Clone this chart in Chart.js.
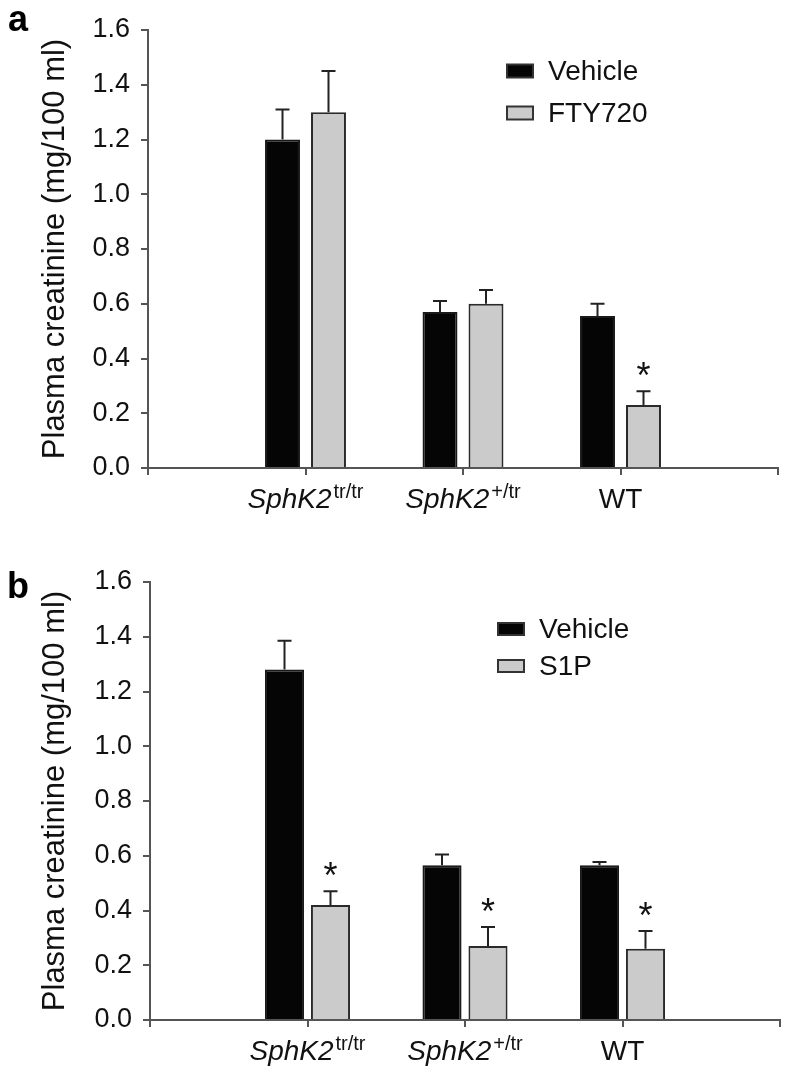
<!DOCTYPE html>
<html>
<head>
<meta charset="utf-8">
<script src="https://cdn.jsdelivr.net/npm/chart.js@4.4.1/dist/chart.umd.min.js"></script>
<style>
  html, body { margin: 0; padding: 0; background: #fff; }
  .panel { position: relative; width: 788px; }
  #panelA { height: 540px; }
  #panelB { height: 539px; }
</style>
</head>
<body>
<div class="panel" id="panelA"><canvas id="chartA"></canvas></div>
<div class="panel" id="panelB"><canvas id="chartB"></canvas></div>
<script>
const FONT = '"Liberation Sans", Arial, sans-serif';

// x categories (genotype name + superscript allele)
const genotypes = ['SphK2', 'SphK2', 'WT'];
const genotypeSup = ['tr/tr', '+/tr', ''];
const genotypeItalic = [true, true, false];

// y axis ticks
const yTickValues = [0, 0.2, 0.4, 0.6, 0.8, 1.0, 1.2, 1.4, 1.6];

// panel a: vehicle vs FTY720
const vehicleA = [1.20, 0.57, 0.555];
const vehicleErrA = [0.11, 0.04, 0.045];
const fty720A = [1.30, 0.60, 0.23];
const fty720ErrA = [0.15, 0.05, 0.05];
const starsA = [false, false, true];

// panel b: vehicle vs S1P
const vehicleB = [1.28, 0.565, 0.565];
const vehicleErrB = [0.105, 0.04, 0.012];
const s1pB = [0.42, 0.27, 0.26];
const s1pErrB = [0.05, 0.07, 0.065];
const starsB = [true, true, true];

Chart.defaults.font.family = FONT;

// empty category at both ends so the groups sit on the inner ticks
const pad = (arr) => [null, ...arr, null];

const panelPlugin = {
  id: 'panel',
  afterDatasetsDraw(chart) {
    const { ctx } = chart;
    const yScale = chart.scales.y;
    ctx.save();
    chart.data.datasets.forEach((ds, di) => {
      const meta = chart.getDatasetMeta(di);
      meta.data.forEach((bar, i) => {
        const v = ds.data[i];
        if (v == null) return;
        const yTop = yScale.getPixelForValue(v + ds.errors[i]);
        ctx.strokeStyle = '#222';
        ctx.lineWidth = 2;
        ctx.beginPath();
        ctx.moveTo(bar.x, bar.y);
        ctx.lineTo(bar.x, yTop);
        ctx.moveTo(bar.x - 7, yTop);
        ctx.lineTo(bar.x + 7, yTop);
        ctx.stroke();
        if (ds.stars && ds.stars[i]) {
          ctx.fillStyle = '#111';
          ctx.font = `36px ${FONT}`;
          ctx.textAlign = 'center';
          ctx.textBaseline = 'alphabetic';
          ctx.fillText('*', bar.x, yTop - 3);
        }
      });
    });
    ctx.restore();
  },
  afterDraw(chart, args, opts) {
    const { ctx, chartArea } = chart;
    const xScale = chart.scales.x;
    ctx.save();
    ctx.fillStyle = '#111';
    ctx.textBaseline = 'alphabetic';

    // category labels with italic gene name and superscript
    genotypes.forEach((name, i) => {
      const x = xScale.getPixelForValue(i + 1);
      const base = chartArea.bottom + 40;
      const mainFont = `${genotypeItalic[i] ? 'italic ' : ''}28px ${FONT}`;
      const supFont = `20px ${FONT}`;
      ctx.font = mainFont;
      const w1 = ctx.measureText(name).width;
      ctx.font = supFont;
      const sup = genotypeSup[i];
      const w2 = sup ? ctx.measureText(sup).width + 2 : 0;
      const x0 = x - (w1 + w2) / 2;
      ctx.textAlign = 'left';
      ctx.font = mainFont;
      ctx.fillText(name, x0, base);
      if (sup) {
        ctx.font = supFont;
        ctx.fillText(sup, x0 + w1 + 2, base - 10);
      }
    });

    // legend
    const lg = opts.legend;
    chart.data.datasets.forEach((ds, di) => {
      const cy = lg.ys[di];
      ctx.fillStyle = ds.backgroundColor;
      ctx.fillRect(lg.x, cy - lg.h / 2, lg.w, lg.h);
      ctx.strokeStyle = '#333';
      ctx.lineWidth = 2;
      ctx.strokeRect(lg.x, cy - lg.h / 2, lg.w, lg.h);
      ctx.fillStyle = '#111';
      ctx.font = `28px ${FONT}`;
      ctx.textAlign = 'left';
      ctx.textBaseline = 'middle';
      ctx.fillText(ds.label, lg.textX, cy + 1);
    });

    // panel letter
    ctx.textBaseline = 'alphabetic';
    ctx.font = `bold 36px ${FONT}`;
    ctx.fillStyle = '#000';
    ctx.fillText(opts.letter.text, opts.letter.x, opts.letter.y);
    ctx.restore();
  },
};

function buildPanel(canvasId, cfg) {
  const ctx = document.getElementById(canvasId);
  return new Chart(ctx, {
    type: 'bar',
    data: {
      labels: pad(genotypes.map((g, i) => g + genotypeSup[i])),
      datasets: [{
        label: 'Vehicle',
        data: pad(cfg.vehicle),
        errors: pad(cfg.vehicleErr),
        backgroundColor: '#050505',
        borderColor: '#1a1a1a',
        borderWidth: 2,
      }, {
        label: cfg.treatName,
        data: pad(cfg.treat),
        errors: pad(cfg.treatErr),
        stars: pad(cfg.stars),
        backgroundColor: '#cbcbcb',
        borderColor: '#2a2a2a',
        borderWidth: 2,
      }],
    },
    options: {
      responsive: true,
      maintainAspectRatio: false,
      animation: false,
      layout: { padding: { top: cfg.top, right: cfg.right, left: 0, bottom: 0 } },
      datasets: { bar: { barPercentage: cfg.barPct, categoryPercentage: 0.584 } },
      plugins: {
        legend: { display: false },
        tooltip: { enabled: false },
        panel: { legend: cfg.legend, letter: cfg.letter },
      },
      scales: {
        x: {
          offset: false,
          grid: { offset: false, drawOnChartArea: false, drawTicks: true, tickLength: 7, color: '#555', lineWidth: 2 },
          border: { color: '#555', width: 2 },
          ticks: { callback: () => '', autoSkip: false, maxRotation: 0 },
          afterFit: (s) => { s.height = cfg.xHeight; },
        },
        y: {
          min: 0,
          max: 1.6,
          afterBuildTicks: (s) => { s.ticks = yTickValues.map((v) => ({ value: v })); },
          grid: { drawOnChartArea: false, drawTicks: true, tickLength: 7, color: '#555', lineWidth: 2 },
          border: { color: '#555', width: 2 },
          ticks: {
            callback: (v) => Number(v).toFixed(1),
            font: { size: 27 },
            color: '#111',
            padding: 11,
          },
          title: {
            display: true,
            text: 'Plasma creatinine (mg/100 ml)',
            font: { size: 31 },
            color: '#111',
            padding: { top: 37, bottom: 0 },
          },
          afterFit: (s) => { s.width = cfg.yWidth; },
        },
      },
    },
    plugins: [panelPlugin],
  });
}

function init() {
  buildPanel('chartA', {
    vehicle: vehicleA, vehicleErr: vehicleErrA,
    treat: fty720A, treatErr: fty720ErrA, stars: starsA,
    treatName: 'FTY720',
    top: 30, right: 10, yWidth: 148, xHeight: 72, barPct: 0.76,
    legend: { x: 507, w: 26, h: 13, textX: 548, ys: [71, 113] },
    letter: { text: 'a', x: 8, y: 31 },
  });
  buildPanel('chartB', {
    vehicle: vehicleB, vehicleErr: vehicleErrB,
    treat: s1pB, treatErr: s1pErrB, stars: starsB,
    treatName: 'S1P',
    top: 42, right: 8, yWidth: 150, xHeight: 59, barPct: 0.85,
    legend: { x: 498, w: 26, h: 12, textX: 539, ys: [89, 126] },
    letter: { text: 'b', x: 7, y: 58 },
  });
}

document.addEventListener('DOMContentLoaded', init);
</script>
</body>
</html>
